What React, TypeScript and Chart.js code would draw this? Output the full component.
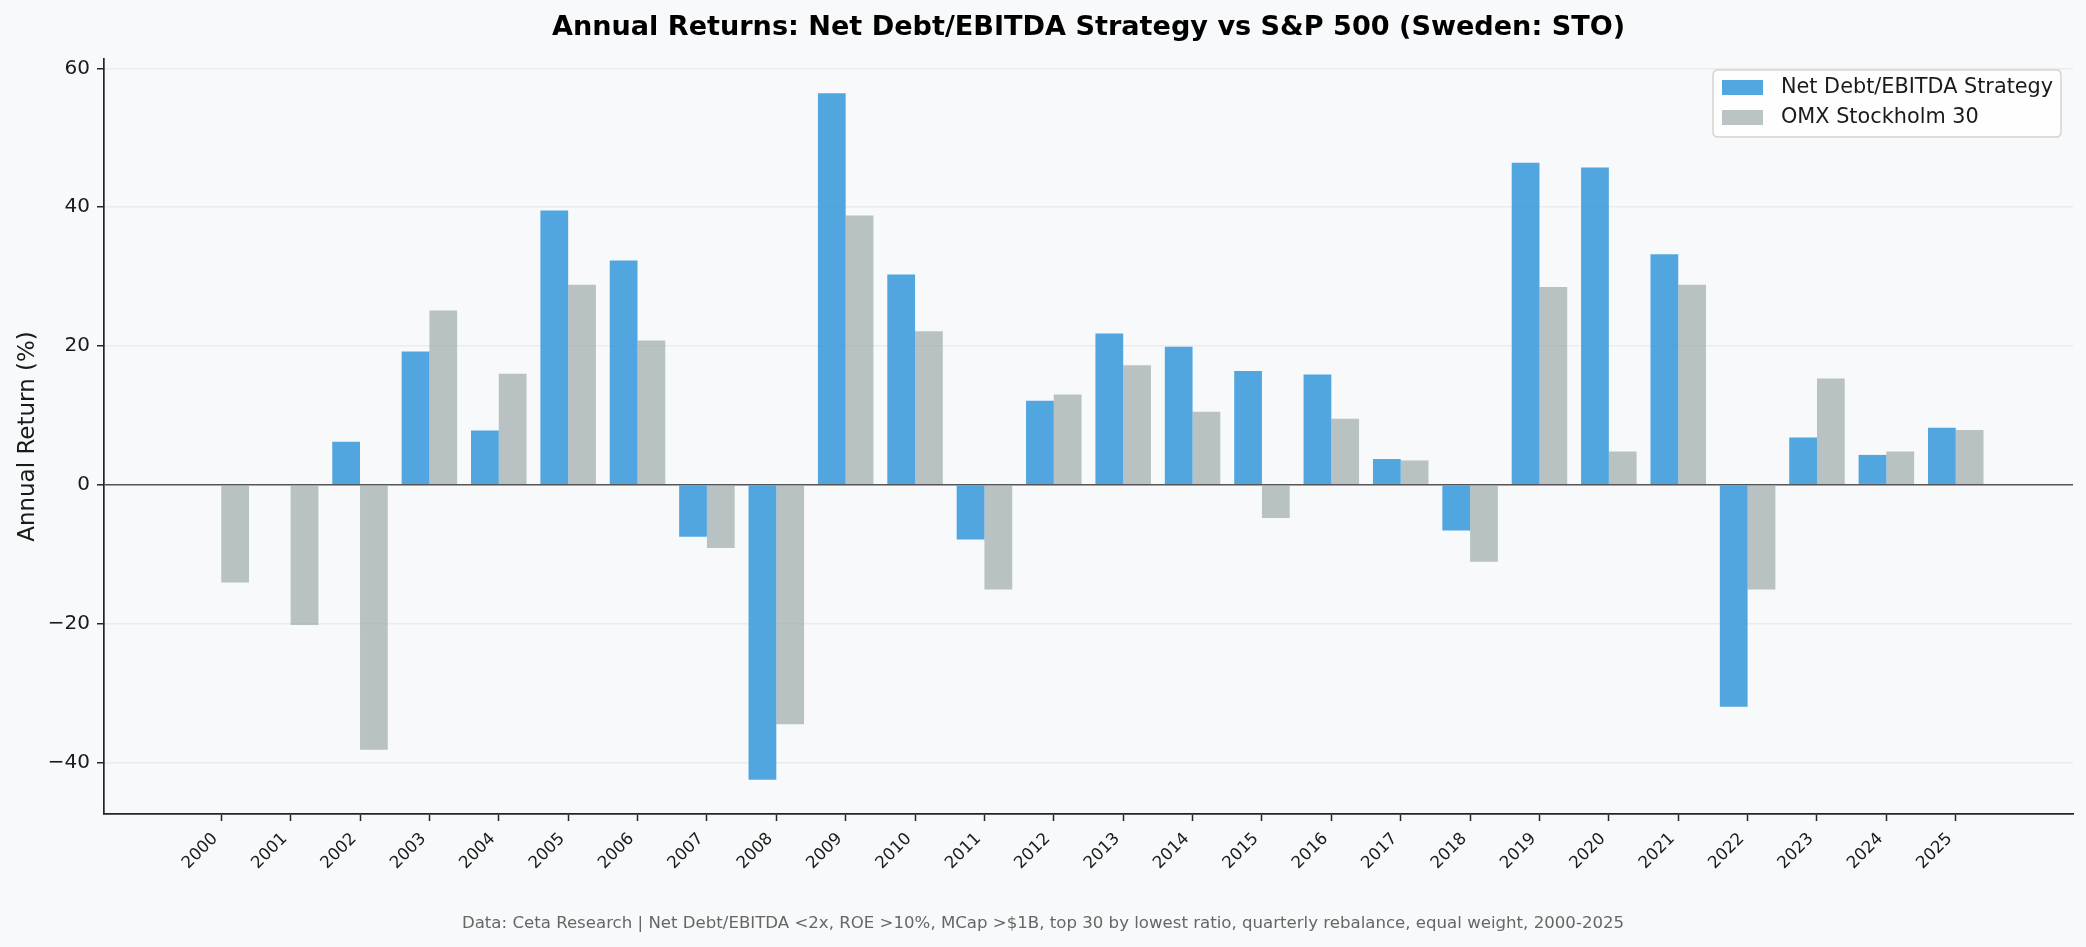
import React, { useEffect, useRef } from 'react';
import { Chart, registerables } from 'chart.js';

Chart.register(...registerables);

const YEARS = ['2000', '2001', '2002', '2003', '2004', '2005', '2006', '2007', '2008', '2009', '2010', '2011', '2012', '2013', '2014', '2015', '2016', '2017', '2018', '2019', '2020', '2021', '2022', '2023', '2024', '2025'];
const STRATEGY: (number | null)[] = [null, null, 6.2, 19.2, 7.8, 39.5, 32.3, -7.5, -42.5, 56.4, 30.3, -7.9, 12.1, 21.8, 19.9, 16.4, 15.9, 3.7, -6.6, 46.4, 45.7, 33.2, -32.0, 6.8, 4.3, 8.2];
const BENCHMARK: number[] = [-14.1, -20.2, -38.2, 25.1, 16.0, 28.8, 20.8, -9.1, -34.5, 38.8, 22.1, -15.1, 13.0, 17.2, 10.5, -4.8, 9.5, 3.5, -11.1, 28.5, 4.8, 28.8, -15.1, 15.3, 4.8, 7.9];
const Y_TICKS = [-40, -20, 0, 20, 40, 60];
const SERIES_LABELS = ['Net Debt/EBITDA Strategy', 'OMX Stockholm 30'];
const TITLE = 'Annual Returns: Net Debt/EBITDA Strategy vs S&P 500 (Sweden: STO)';
const Y_LABEL = 'Annual Return (%)';
const FOOTNOTE = 'Data: Ceta Research | Net Debt/EBITDA <2x, ROE >10%, MCap >$1B, top 30 by lowest ratio, quarterly rebalance, equal weight, 2000-2025';

const FONT = '"DejaVu Sans", "Liberation Sans", sans-serif';
const BG = '#f8f9fa';
const BLUE = 'rgba(52,152,219,0.85)';
const GRAY = 'rgba(149,165,166,0.65)';

export default function App() {
  const canvasRef = useRef<HTMLCanvasElement | null>(null);

  useEffect(() => {
    const canvas = canvasRef.current;
    if (!canvas) return;

    const allVals = [...STRATEGY, ...BENCHMARK].filter((v) => v !== null) as number[];
    const dMin = Math.min(0, ...allVals);
    const dMax = Math.max(0, ...allVals);
    const yPad = (dMax - dMin) * 0.05;
    const xLo = -0.4;
    const xHi = YEARS.length - 1 + 0.4;
    const xPad = (xHi - xLo) * 0.05;

    const decor = {
      id: 'decor',
      beforeDraw(chart: any) {
        const c = chart.ctx;
        c.save();
        c.fillStyle = BG;
        c.fillRect(0, 0, chart.width, chart.height);
        c.restore();
      },
      afterDraw(chart: any) {
        const c = chart.ctx;
        const ca = chart.chartArea;
        c.save();
        // title
        c.fillStyle = '#000';
        c.font = `bold 27.1px ${FONT}`;
        c.textAlign = 'center';
        c.textBaseline = 'alphabetic';
        c.fillText(TITLE, (ca.left + ca.right) / 2, 35);
        // footnote
        c.fillStyle = '#666';
        c.font = `16.6px ${FONT}`;
        c.fillText(FOOTNOTE, chart.width / 2, 928);
        // legend
        const bx = 1713, by = 70, bw = 348, bh = 67, r = 5;
        c.beginPath();
        c.moveTo(bx + r, by);
        c.lineTo(bx + bw - r, by);
        c.quadraticCurveTo(bx + bw, by, bx + bw, by + r);
        c.lineTo(bx + bw, by + bh - r);
        c.quadraticCurveTo(bx + bw, by + bh, bx + bw - r, by + bh);
        c.lineTo(bx + r, by + bh);
        c.quadraticCurveTo(bx, by + bh, bx, by + bh - r);
        c.lineTo(bx, by + r);
        c.quadraticCurveTo(bx, by, bx + r, by);
        c.closePath();
        c.fillStyle = 'rgba(255,255,255,0.8)';
        c.fill();
        c.strokeStyle = '#d4d4d4';
        c.lineWidth = 1.5;
        c.stroke();
        const colors = [BLUE, GRAY];
        c.font = `20.8px ${FONT}`;
        c.textAlign = 'left';
        c.textBaseline = 'middle';
        SERIES_LABELS.forEach((lab, i) => {
          const y = 80 + i * 30;
          c.fillStyle = colors[i];
          c.fillRect(1722, y, 41, 15);
          c.fillStyle = '#1a1a1a';
          c.fillText(lab, 1781, y + 8);
        });
        c.restore();
      },
    };

    const chart = new Chart(canvas, {
      type: 'bar',
      data: {
        datasets: [
          {
            label: SERIES_LABELS[0],
            data: STRATEGY.map((v, i) => ({ x: i, y: v })) as any,
            backgroundColor: BLUE,
            borderWidth: 0,
            categoryPercentage: 0.8,
            barPercentage: 1.0,
          },
          {
            label: SERIES_LABELS[1],
            data: BENCHMARK.map((v, i) => ({ x: i, y: v })) as any,
            backgroundColor: GRAY,
            borderWidth: 0,
            categoryPercentage: 0.8,
            barPercentage: 1.0,
          },
        ],
      },
      options: {
        animation: false,
        responsive: true,
        maintainAspectRatio: false,
        devicePixelRatio: 1,
        layout: { padding: { top: 59, right: 13, left: 0, bottom: 0 } },
        plugins: {
          legend: { display: false },
          tooltip: { enabled: false },
          title: { display: false },
        },
        scales: {
          x: {
            type: 'linear',
            offset: false,
            min: xLo - xPad,
            max: xHi + xPad,
            afterBuildTicks: (axis: any) => {
              axis.ticks = YEARS.map((_, i) => ({ value: i }));
            },
            afterFit: (axis: any) => {
              axis.height = 133;
            },
            ticks: {
              autoSkip: false,
              minRotation: 45,
              maxRotation: 45,
              padding: 8,
              labelOffset: -6,
              color: '#1a1a1a',
              font: { family: FONT, size: 16.7 },
              callback: (v: any) => YEARS[Math.round(Number(v))] ?? '',
            },
            grid: {
              display: true,
              drawOnChartArea: false,
              drawTicks: true,
              tickLength: 7,
              tickColor: '#262626',
              tickWidth: 1.5,
              offset: false,
            },
            border: { display: true, color: '#262626', width: 1.7 },
          },
          y: {
            type: 'linear',
            min: dMin - yPad,
            max: dMax + yPad,
            afterBuildTicks: (axis: any) => {
              axis.ticks = Y_TICKS.map((v) => ({ value: v }));
            },
            afterFit: (axis: any) => {
              axis.width = 104;
            },
            ticks: {
              padding: 7,
              color: '#1a1a1a',
              font: { family: FONT, size: 20 },
              callback: (v: any) => String(v).replace('-', '\u2212'),
            },
            grid: {
              color: (ctx: any) => (ctx.tick && ctx.tick.value === 0 ? '#555555' : '#eaecee'),
              lineWidth: (ctx: any) => (ctx.tick && ctx.tick.value === 0 ? 1.6 : 1.5),
              tickLength: 7,
              tickColor: '#262626',
              tickWidth: 1.5,
            },
            border: { display: true, color: '#262626', width: 1.7 },
            title: {
              display: true,
              text: Y_LABEL,
              color: '#1a1a1a',
              font: { family: FONT, size: 23 },
              padding: { top: 14, bottom: 4 },
            },
          },
        },
      },
      plugins: [decor],
    } as any);

    return () => {
      chart.destroy();
    };
  }, []);

  return (
    <div style={{ position: 'absolute', left: 0, top: 0, width: 2086, height: 947, background: BG }}>
      <canvas ref={canvasRef} />
    </div>
  );
}
